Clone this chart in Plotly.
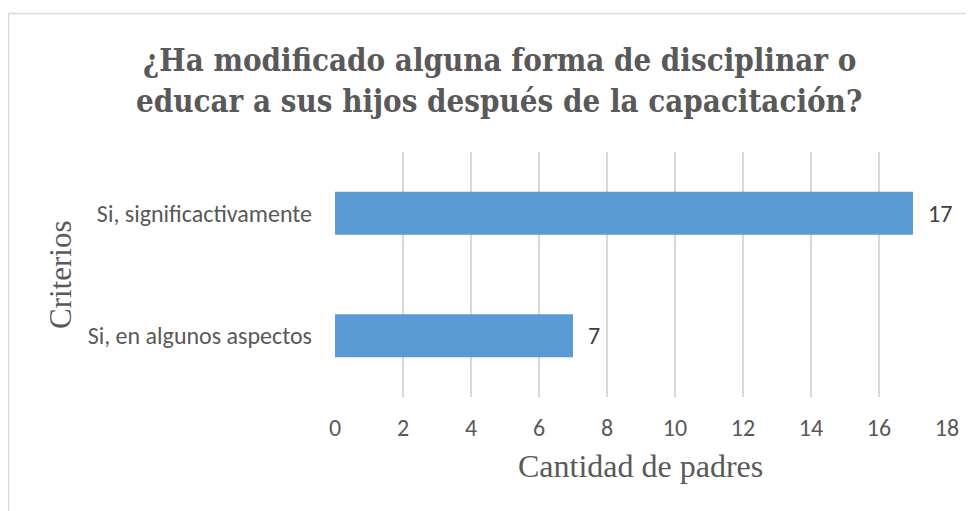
import plotly.graph_objects as go

categories = ["Si, en algunos aspectos", "Si, significactivamente"]
values = [7, 17]
x_ticks = [0, 2, 4, 6, 8, 10, 12, 14, 16, 18]
title_lines = ["¿Ha modificado alguna forma de disciplinar o",
               "educar a sus hijos después de la capacitación?"]
x_title = "Cantidad de padres"
y_title = "Criterios"

OFF = 8  # page body margin
W, H = 974 - OFF, 511 - OFF
L, R, T, B = 335 - OFF, 27, 152 - OFF, 114
pw, ph = W - L - R, H - T - B

def px(x):
    return (x - OFF - L) / pw

def py(y):
    return (H - B - (y - OFF)) / ph

GRAY = "#595959"
SERIF = "Times New Roman, Liberation Serif, DejaVu Serif, serif"
TITLE_FONT = "DejaVu Serif Condensed, DejaVu Serif, serif"
SANS = "Carlito, Lato, sans-serif"

fig = go.Figure()
fig.add_trace(go.Bar(
    x=values, y=categories, orientation="h",
    marker=dict(color="#5B9BD5", line=dict(width=0)),
    width=0.35, showlegend=False, hoverinfo="x+y",
))

for v, c in zip(values, categories):
    fig.add_annotation(x=v, y=c, xref="x", yref="y", text=str(v),
                       showarrow=False, xanchor="left", xshift=13,
                       font=dict(family=SANS, size=24, color="#404040"))

for i, line in enumerate(title_lines):
    fig.add_annotation(x=px(499), y=py(60 + i * 41), xref="paper", yref="paper",
                       text=line, showarrow=False,
                       xanchor="center", yanchor="middle",
                       font=dict(family=TITLE_FONT, size=31, color=GRAY, weight="bold"))

fig.add_annotation(x=px(640), y=py(466), xref="paper", yref="paper",
                   text=x_title, showarrow=False, xanchor="center", yanchor="middle",
                   font=dict(family=SERIF, size=32, color=GRAY))
fig.add_annotation(x=px(60), y=py(275), xref="paper", yref="paper",
                   text=y_title, showarrow=False, textangle=-90,
                   xanchor="center", yanchor="middle",
                   font=dict(family=SERIF, size=31, color=GRAY))

# outer chart border (left and top visible)
fig.add_shape(type="line", xref="paper", yref="paper",
              x0=px(8.5), x1=px(8.5), y0=py(13.5), y1=py(530),
              line=dict(color="#D9D9D9", width=1.5))
fig.add_shape(type="line", xref="paper", yref="paper",
              x0=px(8.5), x1=px(1000), y0=py(13.5), y1=py(13.5),
              line=dict(color="#D9D9D9", width=1.5))

fig.update_layout(
    width=W, height=H,
    margin=dict(l=L, r=R, t=T, b=B),
    paper_bgcolor="white", plot_bgcolor="white",
    xaxis=dict(range=[0, 18], tickvals=x_ticks, showgrid=True,
               gridcolor="#D9D9D9", gridwidth=1.5, zeroline=False,
               showline=False, ticks="", ticklabelstandoff=14,
               tickfont=dict(family=SANS, size=24, color=GRAY)),
    yaxis=dict(categoryorder="array", categoryarray=categories,
               showgrid=False, zeroline=False, showline=False, ticks="",
               ticklabelstandoff=22,
               tickfont=dict(family=SANS, size=24, color=GRAY)),
)

fig.write_html("out.html")
